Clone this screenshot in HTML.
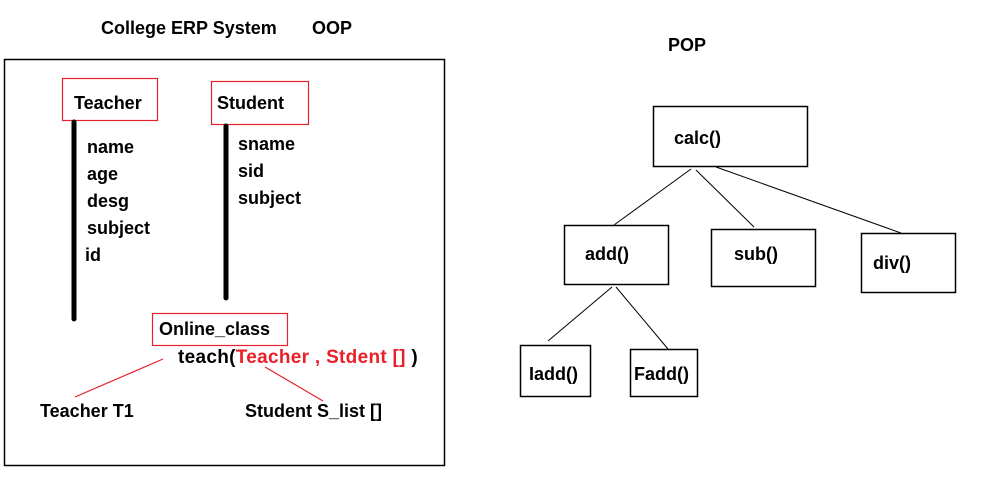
<!DOCTYPE html>
<html><head><style>
body{margin:0;background:#fff;width:984px;height:499px;overflow:hidden;position:relative;font-family:"Liberation Sans",sans-serif;font-weight:bold;font-size:18px;color:#000}
.t{position:absolute;white-space:nowrap;line-height:20px}
.r{color:#e8202a}
</style></head><body>
<svg width="984" height="499" style="position:absolute;left:0;top:0">
<g fill="none" stroke="#000" stroke-width="1.5">
<rect x="4.5" y="59.5" width="440" height="406"/>
<rect x="653.5" y="106.5" width="154" height="60"/>
<rect x="564.5" y="225.5" width="104" height="59"/>
<rect x="711.5" y="229.5" width="104" height="57"/>
<rect x="861.5" y="233.5" width="94" height="59"/>
<rect x="520.5" y="345.5" width="70" height="51"/>
<rect x="630.5" y="349.5" width="67" height="47"/>
</g>
<g stroke="#000" stroke-width="1">
<line x1="691" y1="169" x2="614" y2="225"/>
<line x1="696" y1="170" x2="754" y2="227"/>
<line x1="716" y1="167" x2="901" y2="233"/>
<line x1="612" y1="287" x2="548" y2="341"/>
<line x1="616" y1="287" x2="668" y2="349"/>
</g>
<g fill="none" stroke="#e8202a" stroke-width="1.2">
<rect x="62.5" y="78.5" width="95" height="42"/>
<rect x="211.5" y="81.5" width="97" height="43"/>
<rect x="152.5" y="313.5" width="135" height="32"/>
<line x1="163" y1="359" x2="75" y2="397"/>
<line x1="265" y1="367" x2="323" y2="401"/>
</g>
<g stroke="#000" stroke-width="5" stroke-linecap="round">
<line x1="74" y1="122" x2="74" y2="319"/>
<line x1="226" y1="126" x2="226" y2="298"/>
</g>
</svg>
<div class="t" style="left:101px;top:18px">College ERP System</div>
<div class="t" style="left:312px;top:18px">OOP</div>
<div class="t" style="left:668px;top:35px">POP</div>
<div class="t" style="left:74px;top:93px">Teacher</div>
<div class="t" style="left:217px;top:93px">Student</div>
<div class="t" style="left:87px;top:137px">name</div>
<div class="t" style="left:87px;top:164px">age</div>
<div class="t" style="left:87px;top:191px">desg</div>
<div class="t" style="left:87px;top:218px">subject</div>
<div class="t" style="left:85px;top:245px">id</div>
<div class="t" style="left:238px;top:134px">sname</div>
<div class="t" style="left:238px;top:161px">sid</div>
<div class="t" style="left:238px;top:188px">subject</div>
<div class="t" style="left:159px;top:319px">Online_class</div>
<div class="t" style="left:178px;top:348px;font-size:19px;letter-spacing:0.3px">teach(<span class="r">Teacher , Stdent []</span> )</div>
<div class="t" style="left:40px;top:401px">Teacher T1</div>
<div class="t" style="left:245px;top:401px">Student S_list []</div>
<div class="t" style="left:674px;top:128px">calc()</div>
<div class="t" style="left:585px;top:244px">add()</div>
<div class="t" style="left:734px;top:244px">sub()</div>
<div class="t" style="left:873px;top:253px">div()</div>
<div class="t" style="left:529px;top:364px">Iadd()</div>
<div class="t" style="left:634px;top:364px">Fadd()</div>
</body></html>
